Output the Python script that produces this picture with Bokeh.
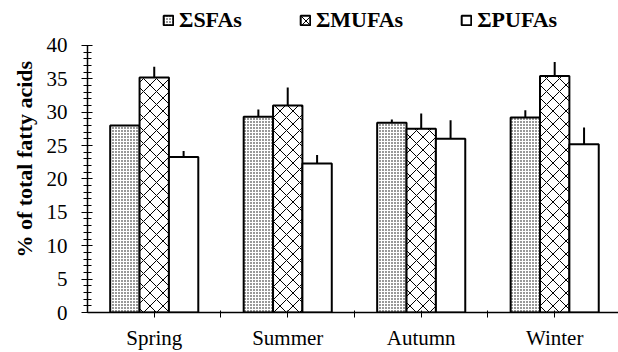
import numpy as np
from bokeh.plotting import figure
from bokeh.models import (ColumnDataSource, Range1d, FixedTicker, SingleIntervalTicker,
                          Legend, LegendItem)
from bokeh.embed import file_html
from bokeh.resources import INLINE

seasons = ["Spring", "Summer", "Autumn", "Winter"]
series_names = ["\u03a3SFAs", "\u03a3MUFAs", "\u03a3PUFAs"]
sfa = [28.0, 29.3, 28.4, 29.2]
sfa_err = [0.0, 1.1, 0.5, 1.1]
mufa = [35.2, 31.0, 27.5, 35.4]
mufa_err = [1.6, 2.7, 2.3, 2.1]
pufa = [23.3, 22.3, 26.0, 25.2]
pufa_err = [0.9, 1.3, 2.8, 2.5]
y_ticks_interval = 5
y_axis_max = 40

FONT = "Liberation Serif"
bw = 0.22
centers = np.arange(len(seasons)) + 0.5

# frame runs to the top of the canvas; the axis itself stops at 40
p = figure(width=618, height=352, output_backend="svg", toolbar_location=None,
           x_range=Range1d(0, 3.978), y_range=Range1d(0, y_axis_max * 313 / 268),
           min_border_left=87, min_border_right=0, min_border_top=0, min_border_bottom=39)
p.outline_line_color = None
p.xgrid.visible = False
p.ygrid.visible = False
p.background_fill_color = "white"
p.border_fill_color = "white"

styles = [
    dict(fill_color="white", hatch_pattern="dot", hatch_scale=3, hatch_color="black", hatch_weight=1),
    dict(fill_color="white", hatch_pattern="diagonal_cross", hatch_scale=13, hatch_color="black", hatch_weight=1),
    dict(fill_color="white"),
]
vals = [sfa, mufa, pufa]
errs = [sfa_err, mufa_err, pufa_err]
offsets = [-bw, 0.0, bw]

items = []
for name, v, e, off, st in zip(series_names, vals, errs, offsets, styles):
    xs = centers + off
    src = ColumnDataSource(dict(x=xs, top=v, up=np.array(v) + np.array(e)))
    r = p.vbar(x="x", top="top", width=bw, bottom=0, source=src,
               line_color="black", line_width=2, **st)
    p.segment(x0="x", y0="top", x1="x", y1="up", source=src, line_color="black", line_width=2)
    items.append(LegendItem(label=name, renderers=[r]))

legend = Legend(items=items, orientation="horizontal", location=(75, 279),
                padding=0, margin=0, spacing=57, label_standoff=5,
                glyph_width=12, glyph_height=12,
                label_text_font=FONT, label_text_font_style="bold", label_text_font_size="22px",
                label_text_color="black",
                border_line_color=None, background_fill_alpha=0)
p.add_layout(legend, "center")

# y axis
ya = p.yaxis[0]
ya.bounds = (0, y_axis_max)
ya.ticker = SingleIntervalTicker(interval=y_ticks_interval, num_minor_ticks=5)
ya.major_tick_in = 5
ya.major_tick_out = 6
ya.minor_tick_in = 4
ya.minor_tick_out = 4
ya.major_label_standoff = 14
ya.axis_line_width = 1.5
ya.major_tick_line_width = 1.2
ya.minor_tick_line_width = 1
ya.major_label_text_font = FONT
ya.major_label_text_font_size = "21px"
ya.major_label_text_color = "black"
ya.axis_label = "%  of total fatty acids"
ya.axis_label_standoff = 7
ya.axis_label_text_font = FONT
ya.axis_label_text_font_style = "bold"
ya.axis_label_text_font_size = "22px"
ya.axis_label_text_color = "black"

# x axis
xa = p.xaxis[0]
bounds = [float(i) for i in range(1, len(seasons))]
ticks = sorted(list(centers) + bounds)
xa.ticker = FixedTicker(ticks=ticks, minor_ticks=[])
overrides = {float(c): s for c, s in zip(centers, seasons)}
overrides.update({b: "" for b in bounds})
xa.major_label_overrides = overrides
xa.major_tick_in = 2
xa.major_tick_out = 5
xa.major_label_standoff = 8
xa.axis_line_width = 1.5
xa.major_label_text_font = FONT
xa.major_label_text_font_size = "21px"
xa.major_label_text_color = "black"

open("out.html", "w").write(file_html(p, INLINE))
